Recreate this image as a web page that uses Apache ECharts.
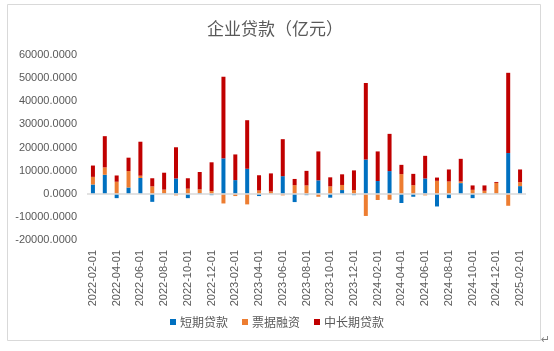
<!DOCTYPE html>
<html>
<head>
<meta charset="utf-8">
<script src="https://cdn.jsdelivr.net/npm/echarts@6/dist/echarts.min.js"></script>
<style>
html,body{margin:0;padding:0;background:#fff;}
#chart{width:554px;height:351px;}
</style>
</head>
<body>
<div id="chart"></div>
<script>
const categories = [
  '2022-02-01','2022-03-01','2022-04-01','2022-05-01','2022-06-01','2022-07-01','2022-08-01','2022-09-01','2022-10-01','2022-11-01','2022-12-01',
  '2023-01-01','2023-02-01','2023-03-01','2023-04-01','2023-05-01','2023-06-01','2023-07-01','2023-08-01','2023-09-01','2023-10-01','2023-11-01','2023-12-01',
  '2024-01-01','2024-02-01','2024-03-01','2024-04-01','2024-05-01','2024-06-01','2024-07-01','2024-08-01','2024-09-01','2024-10-01','2024-11-01','2024-12-01',
  '2025-01-01','2025-02-01'
];
const shortTermLoans = [4000, 8200, -1900, 2700, 6800, -3500, 100, 6600, -1900, 300, -600,
  15300, 5900, 10800, -1000, 100, 7600, -3600, -600, 5800, -1700, 1600, -600,
  14800, 5500, 9800, -4000, -1300, 6600, -5500, -1900, 4600, -1900, 100, 100,
  17600, 3300];
const billFinancing = [3300, 3200, 5200, 7100, 1000, 3200, 1700, -700, 2200, 1600, 1200,
  -4200, -1000, -4600, 1400, 900, -700, 3700, 3600, -1300, 3200, 2200, 1600,
  -9600, -2700, -2600, 8500, 3700, -700, 5600, 5300, 700, 1700, 1200, 4600,
  -5200, 1700];
const longTermLoans = [4900, 13500, 2700, 5800, 14700, 3500, 7300, 13500, 4500, 7500, 12400,
  35300, 11100, 21000, 6600, 7800, 16000, 2700, 6300, 12500, 3900, 4600, 8500,
  33100, 12800, 16100, 4000, 4900, 9800, 1400, 5200, 9800, 1900, 2300, 400,
  34700, 5500];
const yTicks = [-20000, -10000, 0, 10000, 20000, 30000, 40000, 50000, 60000];
const seriesNames = ['短期贷款', '票据融资', '中长期贷款'];
const titleText = '企业贷款（亿元）';

const chart = echarts.init(document.getElementById('chart'), null, {renderer: 'canvas'});
const colors = ['#0070C0', '#ED7D31', '#C00000'];
const dataSets = [shortTermLoans, billFinancing, longTermLoans];
const series = dataSets.map((d, i) => ({
  name: seriesNames[i],
  type: 'bar',
  stack: 'total',
  barWidth: 4,
  data: d,
  itemStyle: {color: colors[i]},
  ...(i === 0 ? {markLine: {
    silent: true, symbol: 'none', animation: false,
    label: {show: false},
    lineStyle: {color: '#d9d9d9', width: 1.5, type: 'solid'},
    data: [{yAxis: 0}]
  }} : {})
}));

chart.setOption({
  animation: false,
  backgroundColor: '#fff',
  title: {
    text: titleText, left: 270, top: 15, textAlign: 'center',
    textStyle: {fontSize: 17, fontWeight: 'normal', color: '#595959', fontFamily: 'Noto Sans CJK SC'}
  },
  legend: {
    bottom: 18, left: 'center',
    itemWidth: 6, itemHeight: 6, itemGap: 14,
    icon: 'rect',
    textStyle: {fontSize: 12, color: '#595959', fontFamily: 'Noto Sans CJK SC', padding: [0, 0, 0, -1]},
    data: seriesNames
  },
  grid: {left: 87, right: 28, top: 55, bottom: 111},
  xAxis: {
    type: 'category',
    data: categories,
    axisLine: {show: false},
    axisTick: {show: false},
    axisLabel: {
      interval: 1, rotate: 90, margin: 10,
      fontSize: 11, color: '#595959', fontFamily: 'Liberation Sans'
    }
  },
  yAxis: {
    type: 'value',
    min: yTicks[0], max: yTicks[yTicks.length - 1], interval: 10000,
    axisLine: {show: false},
    axisTick: {show: false},
    splitLine: {show: false},
    axisLabel: {
      margin: 10, fontSize: 11, color: '#595959', fontFamily: 'Liberation Sans',
      formatter: v => v.toFixed(4)
    }
  },
  graphic: [
    {type: 'rect', shape: {x: 7.5, y: 4.5, width: 533, height: 336}, style: {fill: 'none', stroke: '#d9d9d9', lineWidth: 1}, silent: true, z: -1},
    {type: 'text', x: 541, y: 335, style: {text: '↵', fill: '#808080', fontSize: 11, fontFamily: 'DejaVu Sans'}, silent: true}
  ],
  series: series
});
</script>
</body>
</html>
